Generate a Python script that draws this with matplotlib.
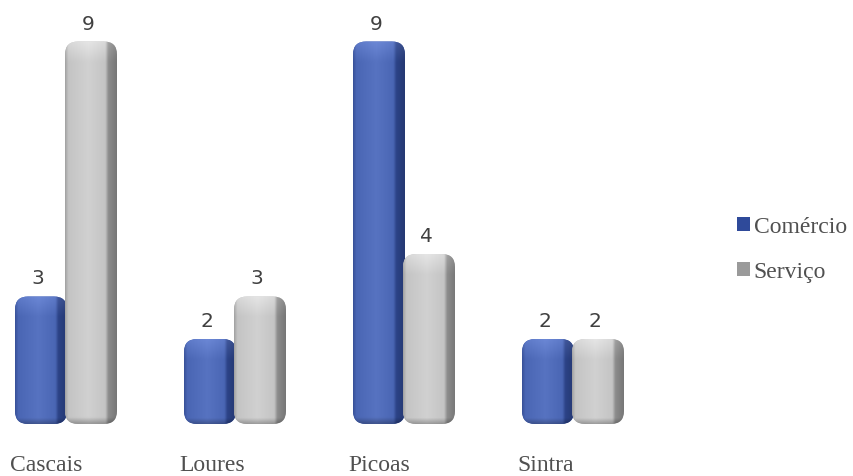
import numpy as np
import matplotlib
matplotlib.use("Agg")
import matplotlib.pyplot as plt
from matplotlib.patches import FancyBboxPatch, Patch
from matplotlib.colors import to_rgb

categories = ["Cascais", "Loures", "Picoas", "Sintra"]
series_names = ["Comércio", "Serviço"]
comercio = [3, 2, 9, 2]
servico = [9, 3, 4, 2]

face_colors = ["#4a66b4", "#c4c4c4"]
edge_dark = ["#2c4387", "#8c8c8c"]
legend_colors = ["#2f4a9a", "#9a9a9a"]

W, H = 854, 477
fig = plt.figure(figsize=(W / 100, H / 100), dpi=100)
ax = fig.add_axes([0, 0, 1, 1])

px_x = 169.0   # pixels per category
px_y = 42.5    # pixels per unit value
base_px = 52   # baseline height above bottom
ax.set_xlim(-67 / px_x, (W - 67) / px_x)
ax.set_ylim(-base_px / px_y, (H - base_px) / px_y)
ax.axis("off")

bar_w = 52 / px_x
radius_px = 13
aspect = px_x / px_y


def shade_profile(n, face, dark):
    f = np.array(to_rgb(face))
    d = np.array(to_rgb(dark))
    light = np.clip(f + 0.05, 0, 1)
    t = np.linspace(0, 1, n)
    out = np.zeros((n, 3))
    for i, s in enumerate(t):
        if s < 0.06:
            c = d * (1 - s / 0.06) * 0.6 + f * (0.4 + 0.6 * s / 0.06)
        elif s < 0.45:
            k = (s - 0.06) / 0.39
            c = f * (1 - k) + light * k
        elif s < 0.78:
            k = (s - 0.45) / 0.33
            c = light * (1 - k) + f * k
        elif s < 0.84:
            k = (s - 0.78) / 0.06
            c = f * (1 - k) + d * k
        else:
            c = d * (1 - 0.15 * (s - 0.84) / 0.16)
        out[i] = c
    return out


def draw_bar(x0, value, k):
    h = value
    patch = FancyBboxPatch((x0, 0), bar_w, h,
                           boxstyle=f"round,pad=0,rounding_size={radius_px / px_x}",
                           mutation_aspect=aspect,
                           facecolor=face_colors[k], edgecolor="none", zorder=2 + k)
    ax.add_patch(patch)
    nx, ny = 80, 200
    prof = shade_profile(nx, face_colors[k], edge_dark[k])
    img = np.tile(prof[None, :, :], (ny, 1, 1))
    # top bevel highlight
    yy = np.linspace(h, 0, ny)
    top = np.clip(1 - (h - yy) * px_y / 20.0, 0, 1)[:, None, None]
    img = np.clip(img + 0.08 * top, 0, 1)
    # soft dark rim at the bottom
    bot = np.clip(1 - yy * px_y / 6.0, 0, 1)[:, None, None]
    img = img * (1 - 0.25 * bot)
    im = ax.imshow(img, extent=(x0, x0 + bar_w, 0, h), aspect="auto",
                   interpolation="bilinear", zorder=2 + k)
    im.set_clip_path(patch)
    return patch


offsets = [-52 / px_x, -2 / px_x]
for i, cat in enumerate(categories):
    for k, vals in enumerate([comercio, servico]):
        x0 = i + offsets[k]
        draw_bar(x0, vals[i], k)
        ax.text(x0 + bar_w / 2 - 3 / px_x, vals[i] + 9 / px_y, str(vals[i]),
                ha="center", va="bottom", fontsize=14.5, color="#404040",
                family="DejaVu Sans")
    ax.text(i - 57 / px_x, -41 / px_y, cat, ha="left", va="center",
            fontsize=17, color="#505050", family="Liberation Serif")

handles = [Patch(facecolor=legend_colors[k], edgecolor="none") for k in range(2)]
fig.legend(handles, series_names, loc="upper left",
           bbox_to_anchor=(737 / W, 1 - 217 / H), frameon=False,
           prop={"family": "Liberation Serif", "size": 17},
           labelcolor="#505050", handlelength=0.55, handleheight=0.55,
           handletextpad=0.15, labelspacing=1.02, borderpad=0, borderaxespad=0)

fig.savefig("out.png", dpi=100)
